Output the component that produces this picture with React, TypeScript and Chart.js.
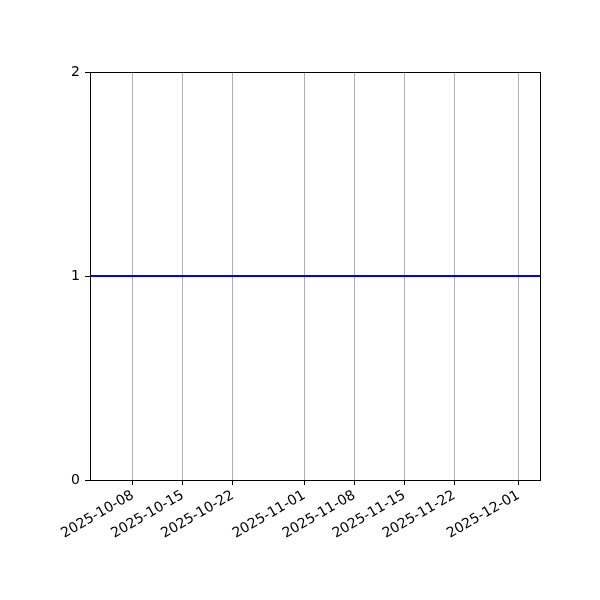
import React, { useEffect, useRef } from 'react';
import Chart from 'chart.js/auto';
import type { ChartOptions, Plugin } from 'chart.js';

// Dates on the series (the line is flat at 1)
const dates = [
  '2025-10-02', '2025-10-08', '2025-10-15', '2025-10-22', '2025-11-01',
  '2025-11-08', '2025-11-15', '2025-11-22', '2025-12-01', '2025-12-04',
];
const values = [1, 1, 1, 1, 1, 1, 1, 1, 1, 1];

const tickDates = [
  '2025-10-08', '2025-10-15', '2025-10-22', '2025-11-01',
  '2025-11-08', '2025-11-15', '2025-11-22', '2025-12-01',
];
const yTicks = [0, 1, 2];

const xMinDate = '2025-10-02';
const xMaxDate = '2025-12-04';

const DAY = 86400000;
const toDay = (s: string) => {
  const [y, m, d] = s.split('-').map(Number);
  return Date.UTC(y, m - 1, d) / DAY;
};
const fromDay = (n: number) => new Date(Math.round(n) * DAY).toISOString().slice(0, 10);

const font = { family: '"DejaVu Sans", sans-serif', size: 14 };

// matplotlib-style box around the plot area
const framePlugin: Plugin<'line'> = {
  id: 'frame',
  afterDatasetsDraw(chart) {
    const { ctx, chartArea } = chart;
    ctx.save();
    ctx.strokeStyle = '#000';
    ctx.lineWidth = 1;
    ctx.strokeRect(
      Math.round(chartArea.left) + 0.5,
      Math.round(chartArea.top) + 0.5,
      Math.round(chartArea.right - chartArea.left),
      Math.round(chartArea.bottom - chartArea.top),
    );
    ctx.restore();
  },
};

const App: React.FC = () => {
  const canvasRef = useRef<HTMLCanvasElement | null>(null);

  useEffect(() => {
    document.body.style.margin = '0';
    if (!canvasRef.current) return;

    const options: ChartOptions<'line'> = {
      animation: false,
      responsive: false,
      layout: { padding: { left: 0, right: 60, top: 72, bottom: 0 } },
      plugins: { legend: { display: false }, tooltip: { enabled: false } },
      scales: {
        x: {
          type: 'linear',
          min: toDay(xMinDate),
          max: toDay(xMaxDate),
          afterBuildTicks: (scale) => {
            scale.ticks = tickDates.map((d) => ({ value: toDay(d) }));
          },
          afterFit: (scale) => {
            scale.height = 120;
          },
          border: { display: false },
          grid: {
            color: '#b0b0b0',
            lineWidth: 1,
            tickColor: '#000',
            tickLength: 5,
          },
          ticks: {
            color: '#000',
            font,
            padding: 2,
            minRotation: 30,
            maxRotation: 30,
            autoSkip: false,
            callback: (v) => fromDay(Number(v)),
          },
        },
        y: {
          min: 0,
          max: 2,
          afterBuildTicks: (scale) => {
            scale.ticks = yTicks.map((v) => ({ value: v }));
          },
          afterFit: (scale) => {
            scale.width = 90;
          },
          border: { display: false },
          grid: {
            drawOnChartArea: false,
            tickColor: '#000',
            tickLength: 5,
          },
          ticks: { color: '#000', font, padding: 5 },
        },
      },
    };

    const chart = new Chart(canvasRef.current, {
      type: 'line',
      data: {
        datasets: [
          {
            data: dates.map((d, i) => ({ x: toDay(d), y: values[i] })),
            borderColor: '#0000ff',
            borderWidth: 2,
            pointRadius: 0,
            fill: false,
            tension: 0,
          },
        ],
      },
      options,
      plugins: [framePlugin],
    });

    return () => {
      chart.destroy();
    };
  }, []);

  return (
    <div style={{ width: 600, height: 600, background: '#fff' }}>
      <canvas ref={canvasRef} width={600} height={600}></canvas>
    </div>
  );
};

export default App;
